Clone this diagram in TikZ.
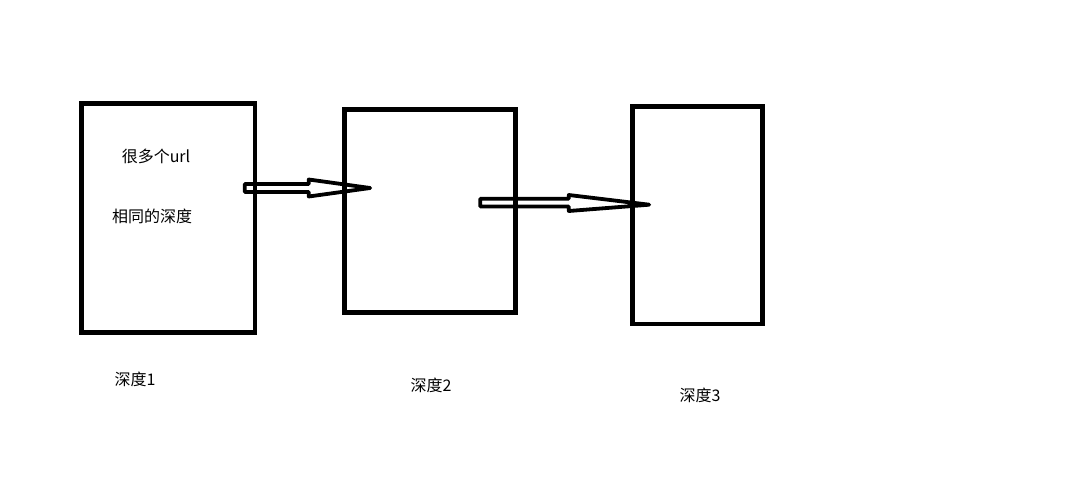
\documentclass[tikz,border=0pt]{standalone}
\usepackage{fontspec}
\setmainfont{Liberation Serif}
\newfontfamily\cjk{Noto Sans CJK SC}
\usetikzlibrary{calc}
\begin{document}
\begin{tikzpicture}[x=1pt,y=-1pt,
  boxstyle/.style={draw=black,line width=4.6pt,inner sep=0pt},
  arrowstyle/.style={draw=black,line width=3.8pt,line join=round},
  lbl/.style={inner sep=0pt,font=\cjk\fontsize{16pt}{19pt}\selectfont}]
\useasboundingbox[fill=white] (0,0) rectangle (1077,485);
% boxes
\node[boxstyle,minimum width=173.5pt,minimum height=229pt] (b1) at (168.2,218) {};
\node[boxstyle,minimum width=171pt,minimum height=203pt] (b2) at (430,211) {};
\node[boxstyle,minimum width=130pt,minimum height=217.5pt] (b3) at (697.5,215.2) {};
% arrow 1
\path (b1.east) ++(-12.5,-30) coordinate (a1s);
\path (b2.west) ++(28,-23) coordinate (a1e);
\draw[arrowstyle] (a1s) ++(0,-4) -- ++(64,0) -- ++(0,-4.5) -- (a1e)
  -- ($(a1s)+(64,8.5)$) -- ++(0,-4.5) -- ++(-64,0) -- cycle;
% arrow 2
\path (b2.east) ++(-37.5,-8.5) coordinate (a2s);
\path (b3.west) ++(19,-10.5) coordinate (a2e);
\draw[arrowstyle] (a2s) ++(0,-3.8) -- ++(88.5,0) -- ++(0,-3.7) -- (a2e)
  -- ($(a2s)+(88.5,8.5)$) -- ++(0,-4.5) -- ++(-88.5,0) -- cycle;
% texts
\node[lbl] (t1) at (156,156) {很多个url};
\node[lbl] (t2) at (152,216) {相同的深度};
\node[lbl] (l1) at (135,379) {深度1};
\node[lbl] (l2) at (431,385) {深度2};
\node[lbl] (l3) at (700,395) {深度3};
\end{tikzpicture}
\end{document}
